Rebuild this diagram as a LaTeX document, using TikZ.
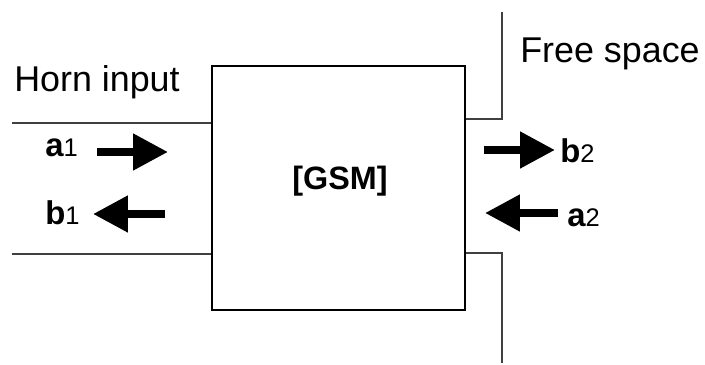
\documentclass[tikz,border=0pt]{standalone}
\usepackage{fontspec}
\setmainfont{Liberation Sans}
\usepackage{tikz}
\usetikzlibrary{arrows.meta}
\colorlet{wallgray}{black!75}
\tikzset{
  port/.style={line width=1.7pt,color=wallgray},
  wave/.style={line width=4.5pt,-{Triangle[length=0.7cm,width=0.7cm]}},
  big/.style={font=\fontsize{20.4}{24}\selectfont},
  lbl/.style={anchor=base west,inner sep=0pt,font=\fontsize{18.7}{22}\selectfont\bfseries}
}
\newcommand{\wsub}[1]{{\fontsize{14.5}{16}\selectfont\mdseries #1}}

\begin{document}
\begin{tikzpicture}[scale=1]
      \useasboundingbox (0,0) rectangle (14.1,7.3);

      \node [draw,line width=1.7pt,minimum width=5.06cm,minimum height=4.88cm] (gsm) at (6.77,3.54) {};
      \node [anchor=base,inner sep=0pt,font=\fontsize{18.4}{22}\selectfont\bfseries] (gsmtext) at (6.8,3.5) {[GSM]};

      \node [big,anchor=base,inner sep=0pt] (horn) at (1.94,5.46) {Horn input};
      \node [big,anchor=base,inner sep=0pt] (free) at (12.2,6.04) {Free space};

      % horn walls
      \coordinate (hornup) at (0.24,4.84);
      \coordinate (hornlow) at (0.24,2.22);
      \draw [port] (hornup) -- (hornup -| gsm.west);
      \draw [port] (hornlow) -- (hornlow -| gsm.west);

      % free space side
      \coordinate (fstop) at (10.04,7.06);
      \coordinate (fsup) at (10.04,4.92);
      \coordinate (fslow) at (10.04,2.24);
      \coordinate (fsbot) at (10.04,0.04);
      \draw [port] (fstop) -- (fsup) -- (fsup -| gsm.east);
      \draw [port] (fsbot) -- (fslow) -- (fslow -| gsm.east);

      % waves
      \coordinate (aonestart) at (1.94,4.26);
      \coordinate (aoneend) at (3.36,4.26);
      \coordinate (bonestart) at (3.3,3.02);
      \coordinate (boneend) at (1.86,3.02);
      \coordinate (btwostart) at (9.68,4.3);
      \coordinate (btwoend) at (11.1,4.3);
      \coordinate (atwostart) at (11.16,3.04);
      \coordinate (atwoend) at (9.7,3.04);
      \draw [wave] (aonestart) -- (aoneend);
      \draw [wave] (bonestart) -- (boneend);
      \draw [wave] (btwostart) -- (btwoend);
      \draw [wave] (atwostart) -- (atwoend);

      \node [lbl] (aone) at (0.9,4.16) {a\wsub{1}};
      \node [lbl] (bone) at (0.9,2.8) {b\wsub{1}};
      \node [lbl] (btwo) at (11.2,4.04) {b\wsub{2}};
      \node [lbl] (atwo) at (11.34,2.76) {a\wsub{2}};

    \end{tikzpicture}
\end{document}
